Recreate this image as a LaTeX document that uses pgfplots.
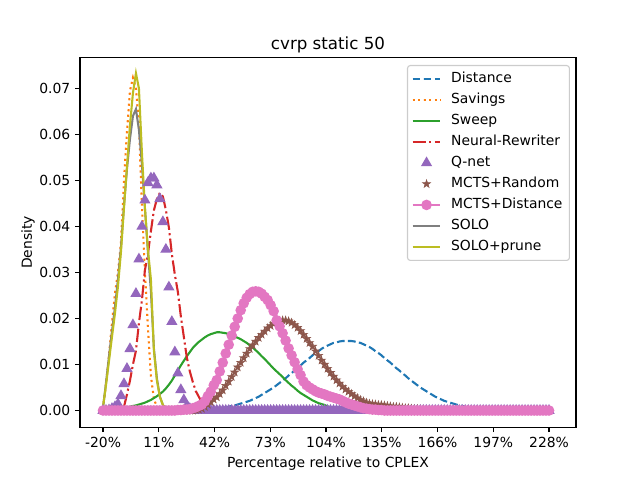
\documentclass[border=0pt]{standalone}
\usepackage{fontspec}
\setmainfont{DejaVu Sans}
\usepackage{pgfplots}
\usepackage{pgfplotstable}
\pgfplotsset{compat=1.18}
\definecolor{c0}{HTML}{1F77B4}
\definecolor{c1}{HTML}{FF7F0E}
\definecolor{c2}{HTML}{2CA02C}
\definecolor{c3}{HTML}{D62728}
\definecolor{c4}{HTML}{9467BD}
\definecolor{c5}{HTML}{8C564B}
\definecolor{c6}{HTML}{E377C2}
\definecolor{c7}{HTML}{7F7F7F}
\definecolor{c8}{HTML}{BCBD22}
% filled five-pointed star, like matplotlib's *
\pgfdeclareplotmark{fstar}{%
  \pgfpathmoveto{\pgfqpointpolar{90}{\pgfplotmarksize}}%
  \pgfpathlineto{\pgfqpointpolar{126}{0.381966\pgfplotmarksize}}%
  \pgfpathlineto{\pgfqpointpolar{162}{\pgfplotmarksize}}%
  \pgfpathlineto{\pgfqpointpolar{198}{0.381966\pgfplotmarksize}}%
  \pgfpathlineto{\pgfqpointpolar{234}{\pgfplotmarksize}}%
  \pgfpathlineto{\pgfqpointpolar{270}{0.381966\pgfplotmarksize}}%
  \pgfpathlineto{\pgfqpointpolar{306}{\pgfplotmarksize}}%
  \pgfpathlineto{\pgfqpointpolar{342}{0.381966\pgfplotmarksize}}%
  \pgfpathlineto{\pgfqpointpolar{18}{\pgfplotmarksize}}%
  \pgfpathlineto{\pgfqpointpolar{54}{0.381966\pgfplotmarksize}}%
  \pgfpathclose
  \pgfusepathqfillstroke
}
\pgfplotstableread{
x dist sav swe nr q rnd mcd sol pru
-20.00 0 .0005 0 0 0 0 0 .0006 .0008
-18.34 0 .0058 .0001 0 0 0 0 .0060 .0055
-16.67 0 .0120 .0001 0 .0001 0 0 .0118 .0108
-15.01 0 .0190 .0002 0 .0004 0 0 .0172 .0160
-13.34 0 .0255 .0003 0 .0008 0 0 .0225 .0212
-11.68 0 .0300 .0004 0 .0014 0 0 .0285 .0270
-10.01 0 .0365 .0005 .0002 .0032 0 0 .0355 .0345
-8.35 0 .0500 .0006 .0008 .0058 0 0 .0445 .0440
-6.68 0 .0605 .0007 .0035 .0091 0 0 .0525 .0530
-5.02 0 .0695 .0008 .0065 .0134 0 0 .0590 .0620
-3.36 0 .0723 .0010 .0100 .0186 0 0 .0640 .0690
-1.69 0 .0700 .0011 .0130 .0254 0 0 .0655 .0733
-0.03 0 .0620 .0013 .0190 .0329 0 0 .0610 .0700
1.64 0 .0445 .0015 .0240 .0400 0 0 .0535 .0560
3.30 0 .0300 .0017 .0305 .0457 0 0 .0440 .0440
4.97 0 .0180 .0020 .0340 .0495 0 0 .0345 .0350
6.63 0 .0075 .0023 .0390 .0505 0 0 .0260 .0285
8.29 0 .0025 .0027 .0435 .0505 0 0 .0135 .0130
9.96 0 .0008 .0031 .0460 .0490 0 0 .0070 .0065
11.62 0 .0002 .0036 .0473 .0460 0 0 .0030 .0030
13.29 0 0 .0041 .0465 .0410 0 0 .0012 .0012
14.95 0 0 .0048 .0436 .0350 0 0 .0003 .0003
16.62 0 0 .0056 .0398 .0268 0 0 .0001 .0001
18.28 0 0 .0065 .0340 .0193 0 0 0 0
19.95 0 0 .0076 .0295 .0127 0 0 0 0
21.61 0 0 .0087 .0258 .0081 0 .0001 0 0
23.27 0 0 .0098 .0205 .0045 0 .0001 0 0
24.94 0 0 .0108 .0160 .0023 0 .0002 0 0
26.60 .0001 0 .0118 .0115 .0010 0 .0002 0 0
28.27 .0001 0 .0127 .0085 .0004 0 .0003 0 0
29.93 .0001 0 .0136 .0062 .0001 0 .0005 0 0
31.60 .0001 0 .0143 .0042 0 .0001 .0007 0 0
33.26 .0002 0 .0149 .0030 0 .0002 .0010 0 0
34.93 .0002 0 .0154 .0018 0 .0004 .0013 0 0
36.59 .0002 0 .0159 .0010 0 .0008 .0020 0 0
38.25 .0003 0 .0163 .0006 0 .0013 .0031 0 0
39.92 .0003 0 .0166 .0003 0 .0018 .0041 0 0
41.58 .0004 0 .0168 .0001 0 .0024 .0055 0 0
43.25 .0004 0 .0170 0 0 .0029 .0066 0 0
44.91 .0005 0 .0170 0 0 .0036 .0085 0 0
46.58 .0006 0 .0169 0 0 .0044 .0104 0 0
48.24 .0007 0 .0168 0 0 .0054 .0124 0 0
49.90 .0008 0 .0166 0 0 .0063 .0143 0 0
51.57 .0010 0 .0164 0 0 .0073 .0163 0 0
53.23 .0011 0 .0161 0 0 .0083 .0182 0 0
54.90 .0013 0 .0158 0 0 .0094 .0200 0 0
56.56 .0015 0 .0155 0 0 .0104 .0218 0 0
58.23 .0017 0 .0151 0 0 .0114 .0233 0 0
59.89 .0019 0 .0147 0 0 .0124 .0245 0 0
61.56 .0021 0 .0142 0 0 .0134 .0253 0 0
63.22 .0024 0 .0137 0 0 .0142 .0258 0 0
64.88 .0027 0 .0131 0 0 .0150 .0259 0 0
66.55 .0030 0 .0125 0 0 .0158 .0258 0 0
68.21 .0034 0 .0118 0 0 .0165 .0254 0 0
69.88 .0038 0 .0112 0 0 .0172 .0247 0 0
71.54 .0042 0 .0105 0 0 .0179 .0240 0 0
73.21 .0046 0 .0098 0 0 .0184 .0229 0 0
74.87 .0050 0 .0091 0 0 .0189 .0216 0 0
76.54 .0055 0 .0085 0 0 .0192 .0196 0 0
78.20 .0060 0 .0079 0 0 .0195 .0183 0 0
79.86 .0065 0 .0073 0 0 .0196 .0168 0 0
81.53 .0070 0 .0066 0 0 .0196 .0152 0 0
83.19 .0076 0 .0060 0 0 .0194 .0135 0 0
84.86 .0081 0 .0054 0 0 .0191 .0120 0 0
86.52 .0087 0 .0049 0 0 .0186 .0105 0 0
88.19 .0092 0 .0043 0 0 .0180 .0090 0 0
89.85 .0098 0 .0038 0 0 .0173 .0077 0 0
91.51 .0104 0 .0034 0 0 .0165 .0063 0 0
93.18 .0109 0 .0030 0 0 .0156 .0055 0 0
94.84 .0114 0 .0026 0 0 .0147 .0050 0 0
96.51 .0120 0 .0022 0 0 .0139 .0046 0 0
98.17 .0125 0 .0019 0 0 .0129 .0042 0 0
99.84 .0129 0 .0016 0 0 .0119 .0039 0 0
101.50 .0134 0 .0014 0 0 .0109 .0037 0 0
103.17 .0138 0 .0012 0 0 .0100 .0035 0 0
104.83 .0141 0 .0009 0 0 .0091 .0032 0 0
106.49 .0144 0 .0007 0 0 .0082 .0030 0 0
108.16 .0147 0 .0006 0 0 .0074 .0028 0 0
109.82 .0148 0 .0005 0 0 .0066 .0026 0 0
111.49 .0150 0 .0004 0 0 .0059 .0024 0 0
113.15 .0151 0 .0003 0 0 .0052 .0021 0 0
114.82 .0151 0 .0002 0 0 .0046 .0018 0 0
116.48 .0151 0 .0002 0 0 .0041 .0015 0 0
118.15 .0151 0 .0001 0 0 .0036 .0013 0 0
119.81 .0150 0 .0001 0 0 .0031 .0011 0 0
121.47 .0148 0 0 0 0 .0027 .0009 0 0
123.14 .0147 0 0 0 0 .0023 .0007 0 0
124.80 .0144 0 0 0 0 .0020 .0005 0 0
126.47 .0141 0 0 0 0 .0017 .0004 0 0
128.13 .0138 0 0 0 0 .0015 .0003 0 0
129.80 .0134 0 0 0 0 .0014 .0002 0 0
131.46 .0129 0 0 0 0 .0013 .0002 0 0
133.13 .0125 0 0 0 0 .0012 .0001 0 0
134.79 .0120 0 0 0 0 .0012 .0001 0 0
136.46 .0114 0 0 0 0 .0011 0 0 0
138.12 .0109 0 0 0 0 .0010 0 0 0
139.78 .0104 0 0 0 0 .0009 0 0 0
141.45 .0098 0 0 0 0 .0008 0 0 0
143.11 .0092 0 0 0 0 .0008 0 0 0
144.78 .0087 0 0 0 0 .0007 0 0 0
146.44 .0081 0 0 0 0 .0006 0 0 0
148.11 .0076 0 0 0 0 .0005 0 0 0
149.77 .0070 0 0 0 0 .0005 0 0 0
151.43 .0065 0 0 0 0 .0004 0 0 0
153.10 .0060 0 0 0 0 .0003 0 0 0
154.76 .0055 0 0 0 0 .0003 0 0 0
156.43 .0050 0 0 0 0 .0002 0 0 0
158.09 .0046 0 0 0 0 .0002 0 0 0
159.76 .0042 0 0 0 0 .0001 0 0 0
161.42 .0038 0 0 0 0 .0001 0 0 0
163.09 .0034 0 0 0 0 0 0 0 0
164.75 .0030 0 0 0 0 0 0 0 0
166.41 .0027 0 0 0 0 0 0 0 0
168.08 .0024 0 0 0 0 0 0 0 0
169.74 .0021 0 0 0 0 0 0 0 0
171.41 .0019 0 0 0 0 0 0 0 0
173.07 .0017 0 0 0 0 0 0 0 0
174.74 .0015 0 0 0 0 0 0 0 0
176.40 .0013 0 0 0 0 0 0 0 0
178.07 .0011 0 0 0 0 0 0 0 0
179.73 .0010 0 0 0 0 0 0 0 0
181.39 .0008 0 0 0 0 0 0 0 0
183.06 .0007 0 0 0 0 0 0 0 0
184.72 .0006 0 0 0 0 0 0 0 0
186.39 .0005 0 0 0 0 0 0 0 0
188.05 .0004 0 0 0 0 0 0 0 0
189.72 .0004 0 0 0 0 0 0 0 0
191.38 .0003 0 0 0 0 0 0 0 0
193.04 .0003 0 0 0 0 0 0 0 0
194.71 .0002 0 0 0 0 0 0 0 0
196.37 .0002 0 0 0 0 0 0 0 0
198.04 .0002 0 0 0 0 0 0 0 0
199.70 .0001 0 0 0 0 0 0 0 0
201.37 .0001 0 0 0 0 0 0 0 0
203.03 .0001 0 0 0 0 0 0 0 0
204.70 .0001 0 0 0 0 0 0 0 0
206.36 0 0 0 0 0 0 0 0 0
208.02 0 0 0 0 0 0 0 0 0
209.69 0 0 0 0 0 0 0 0 0
211.35 0 0 0 0 0 0 0 0 0
213.02 0 0 0 0 0 0 0 0 0
214.68 0 0 0 0 0 0 0 0 0
216.35 0 0 0 0 0 0 0 0 0
218.01 0 0 0 0 0 0 0 0 0
219.68 0 0 0 0 0 0 0 0 0
221.34 0 0 0 0 0 0 0 0 0
223.00 0 0 0 0 0 0 0 0 0
224.67 0 0 0 0 0 0 0 0 0
226.33 0 0 0 0 0 0 0 0 0
228.00 0 0 0 0 0 0 0 0 0
}\densities
\begin{document}
\begin{tikzpicture}
\path[use as bounding box] (-57.6pt,-38.016pt) rectangle (403.2pt,307.584pt);
\begin{axis}[
    scale only axis,
    width=357.12pt,
    height=266.11pt,
    xmin=-32.8, xmax=243,
    ymin=-0.00363, ymax=0.0767,
    xtick={-20,11,42,73,104,135,166,197,228},
    xticklabels={-20\%,11\%,42\%,73\%,104\%,135\%,166\%,197\%,228\%},
    ytick={0,0.01,0.02,0.03,0.04,0.05,0.06,0.07},
    scaled y ticks=false,
    yticklabel style={/pgf/number format/.cd,fixed,fixed zerofill,precision=2,assume math mode=true},
    tick align=outside,
    tick pos=left,
    major tick length=3.5pt,
    axis line style={line width=0.8pt},
    every tick/.style={black,line width=0.8pt},
    tick label style={font=\fontsize{10}{12}\selectfont},
    label style={font=\fontsize{10}{12}\selectfont},
    title style={font=\fontsize{12}{14}\selectfont,yshift=-6.5pt},
    title={cvrp static 50},
    xlabel={Percentage relative to CPLEX},
    ylabel={Density},
    ylabel shift=-3.6pt,
    legend cell align=left,
    legend style={at={(axis description cs:0.9879,0.98)},anchor=north east,
        draw=black!20,line width=0.8pt,rounded corners=2pt,inner ysep=2.2pt,
        font=\fontsize{10}{12}\selectfont,row sep=0pt,
        /tikz/every odd column/.append style={column sep=5pt},
        nodes={text height=7.6pt,text depth=2.1pt,inner ysep=2.7pt}},
    legend image code/.code={\draw[mark repeat=2,mark phase=2,#1] plot coordinates {(0cm,0cm) (0.35cm,0cm) (0.7cm,0cm)};},
    every axis plot/.append style={line width=1.5pt},
]
\addplot[c0,dash pattern=on 5.55pt off 2.4pt] table[x=x,y=dist] {\densities};
\addlegendentry{Distance}
\addplot[c1,dash pattern=on 1.5pt off 2.475pt] table[x=x,y=sav] {\densities};
\addlegendentry{Savings}
\addplot[c2] table[x=x,y=swe] {\densities};
\addlegendentry{Sweep}
\addplot[c3,dash pattern=on 9.6pt off 2.4pt on 1.5pt off 2.4pt] table[x=x,y=nr] {\densities};
\addlegendentry{Neural-Rewriter}
\addplot[c4,only marks,mark=triangle*,mark size=3.7pt,mark options={line width=1pt}] table[x=x,y=q] {\densities};
\addlegendentry{Q-net}
\addplot[c5,only marks,mark=fstar,mark size=3pt,mark options={line width=0.4pt}] table[x=x,y=rnd] {\densities};
\addlegendentry{MCTS+Random}
\addplot[c6,mark=*,mark size=3.3pt,mark options={solid,line width=1pt}] table[x=x,y=mcd] {\densities};
\addlegendentry{MCTS+Distance}
\addplot[c7] table[x=x,y=sol] {\densities};
\addlegendentry{SOLO}
\addplot[c8] table[x=x,y=pru] {\densities};
\addlegendentry{SOLO+prune}
\end{axis}
\end{tikzpicture}
\end{document}
